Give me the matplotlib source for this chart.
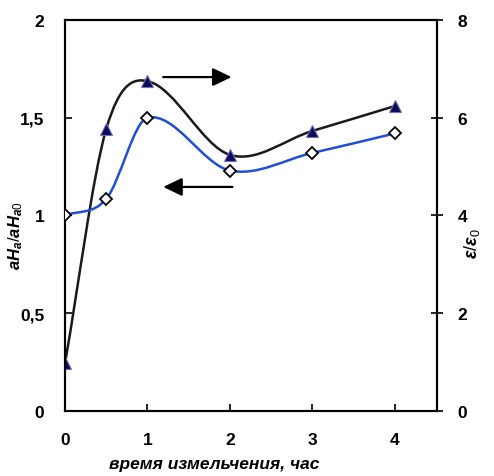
import matplotlib
matplotlib.use("Agg")
import matplotlib.pyplot as plt
from matplotlib.path import Path
from matplotlib.patches import PathPatch
import numpy as np

plt.rcParams["font.family"] = ["Liberation Sans", "DejaVu Sans"]
plt.rcParams["mathtext.fontset"] = "custom"
plt.rcParams["mathtext.rm"] = "Liberation Sans"
plt.rcParams["mathtext.it"] = "Liberation Sans:italic:bold"
plt.rcParams["mathtext.bf"] = "Liberation Sans:bold"

time_h = [0, 0.5, 1, 2, 3, 4]
ah_ratio = [1.00, 1.085, 1.50, 1.23, 1.32, 1.42]
eps_ratio = [0.98, 5.77, 6.75, 5.24, 5.73, 6.24]

left_ticks = [0, 0.5, 1, 1.5, 2]
left_labels = ["0", "0,5", "1", "1,5", "2"]
right_ticks = [0, 2, 4, 6, 8]
right_labels = ["0", "2", "4", "6", "8"]
x_ticks = [0, 1, 2, 3, 4]


def smooth_path(xs, ys):
    x = np.asarray(xs, float)
    y = np.asarray(ys, float)
    n = len(x)
    m = np.zeros(n)
    for i in range(n):
        if i == 0:
            m[i] = (y[1] - y[0]) / (x[1] - x[0])
        elif i == n - 1:
            m[i] = (y[-1] - y[-2]) / (x[-1] - x[-2])
        else:
            m[i] = (y[i + 1] - y[i - 1]) / (x[i + 1] - x[i - 1])
    verts = [(x[0], y[0])]
    codes = [Path.MOVETO]
    for i in range(n - 1):
        h = x[i + 1] - x[i]
        c1 = (x[i] + h / 3, y[i] + m[i] * h / 3)
        c2 = (x[i + 1] - h / 3, y[i + 1] - m[i + 1] * h / 3)
        verts += [c1, c2, (x[i + 1], y[i + 1])]
        codes += [Path.CURVE4] * 3
    return Path(verts, codes)


fig = plt.figure(figsize=(4.94, 4.77), dpi=100)
ax = fig.add_axes([0.1316, 0.1363, 0.7530, 0.8197])
ax2 = ax.twinx()

# epsilon curve (right axis)
ax2.add_patch(PathPatch(smooth_path(time_h, eps_ratio), fill=False,
                        edgecolor="#1a1a1a", lw=1.8, zorder=2))
ax2.plot(time_h, eps_ratio, linestyle="none", marker="^", markersize=8.5,
         markerfacecolor="#0d0d55", markeredgecolor="#7070c0",
         markeredgewidth=0.8, zorder=3)

# aH curve (left axis)
ax.add_patch(PathPatch(smooth_path(time_h, ah_ratio), fill=False,
                       edgecolor="#1f4fd8", lw=1.8, zorder=2))
ax.plot(time_h, ah_ratio, linestyle="none", marker="D", markersize=6.5,
        markerfacecolor="white", markeredgecolor="black",
        markeredgewidth=1.3, zorder=3)

ax.set_zorder(ax2.get_zorder() + 1)
ax.patch.set_visible(False)

ax.set_xlim(0, 4.51)
ax.set_ylim(0, 2)
ax2.set_ylim(0, 8)

ax.set_xticks(x_ticks)
ax.set_xticklabels([str(v) for v in x_ticks])
ax.set_yticks(left_ticks)
ax.set_yticklabels(left_labels)
ax2.set_yticks(right_ticks)
ax2.set_yticklabels(right_labels)

ax.tick_params(axis="x", direction="in", length=5, width=1.2, pad=15,
               labelsize=12.5)
ax.tick_params(axis="y", direction="in", length=5, width=1.2, pad=15,
               labelsize=12.5)
ax2.tick_params(axis="y", direction="inout", length=8, width=1.2, pad=11,
                labelsize=12.5)
for lab in ax.get_xticklabels() + ax.get_yticklabels():
    lab.set_fontweight("bold")
for lab in ax2.get_yticklabels():
    lab.set_fontweight("bold")

for a in (ax, ax2):
    for s in a.spines.values():
        s.set_linewidth(1.5)

ax.set_xlabel("время измельчения, час", fontsize=12.5, fontweight="bold",
              fontstyle="italic")
ax.xaxis.set_label_coords(0.40, -0.115)
ax.set_ylabel(r"$aH_a/aH_{a0}$", fontsize=12)
ax.yaxis.set_label_coords(-0.107, 0.45)
ax2.set_ylabel(r"$\varepsilon/\varepsilon_0$", fontsize=13, rotation=90,
               va="center", ha="center")
ax2.yaxis.set_label_coords(1.095, 0.43)

# arrows
style = "-|>,head_length=1.15,head_width=0.55"
ax.annotate("", xy=(2.02, 1.708), xytext=(1.19, 1.708),
            arrowprops=dict(arrowstyle=style, color="black", lw=1.6,
                            shrinkA=0, shrinkB=0))
ax.annotate("", xy=(1.19, 1.146), xytext=(2.03, 1.146),
            arrowprops=dict(arrowstyle=style, color="black", lw=1.6,
                            shrinkA=0, shrinkB=0))

fig.savefig("out.png", dpi=100)
